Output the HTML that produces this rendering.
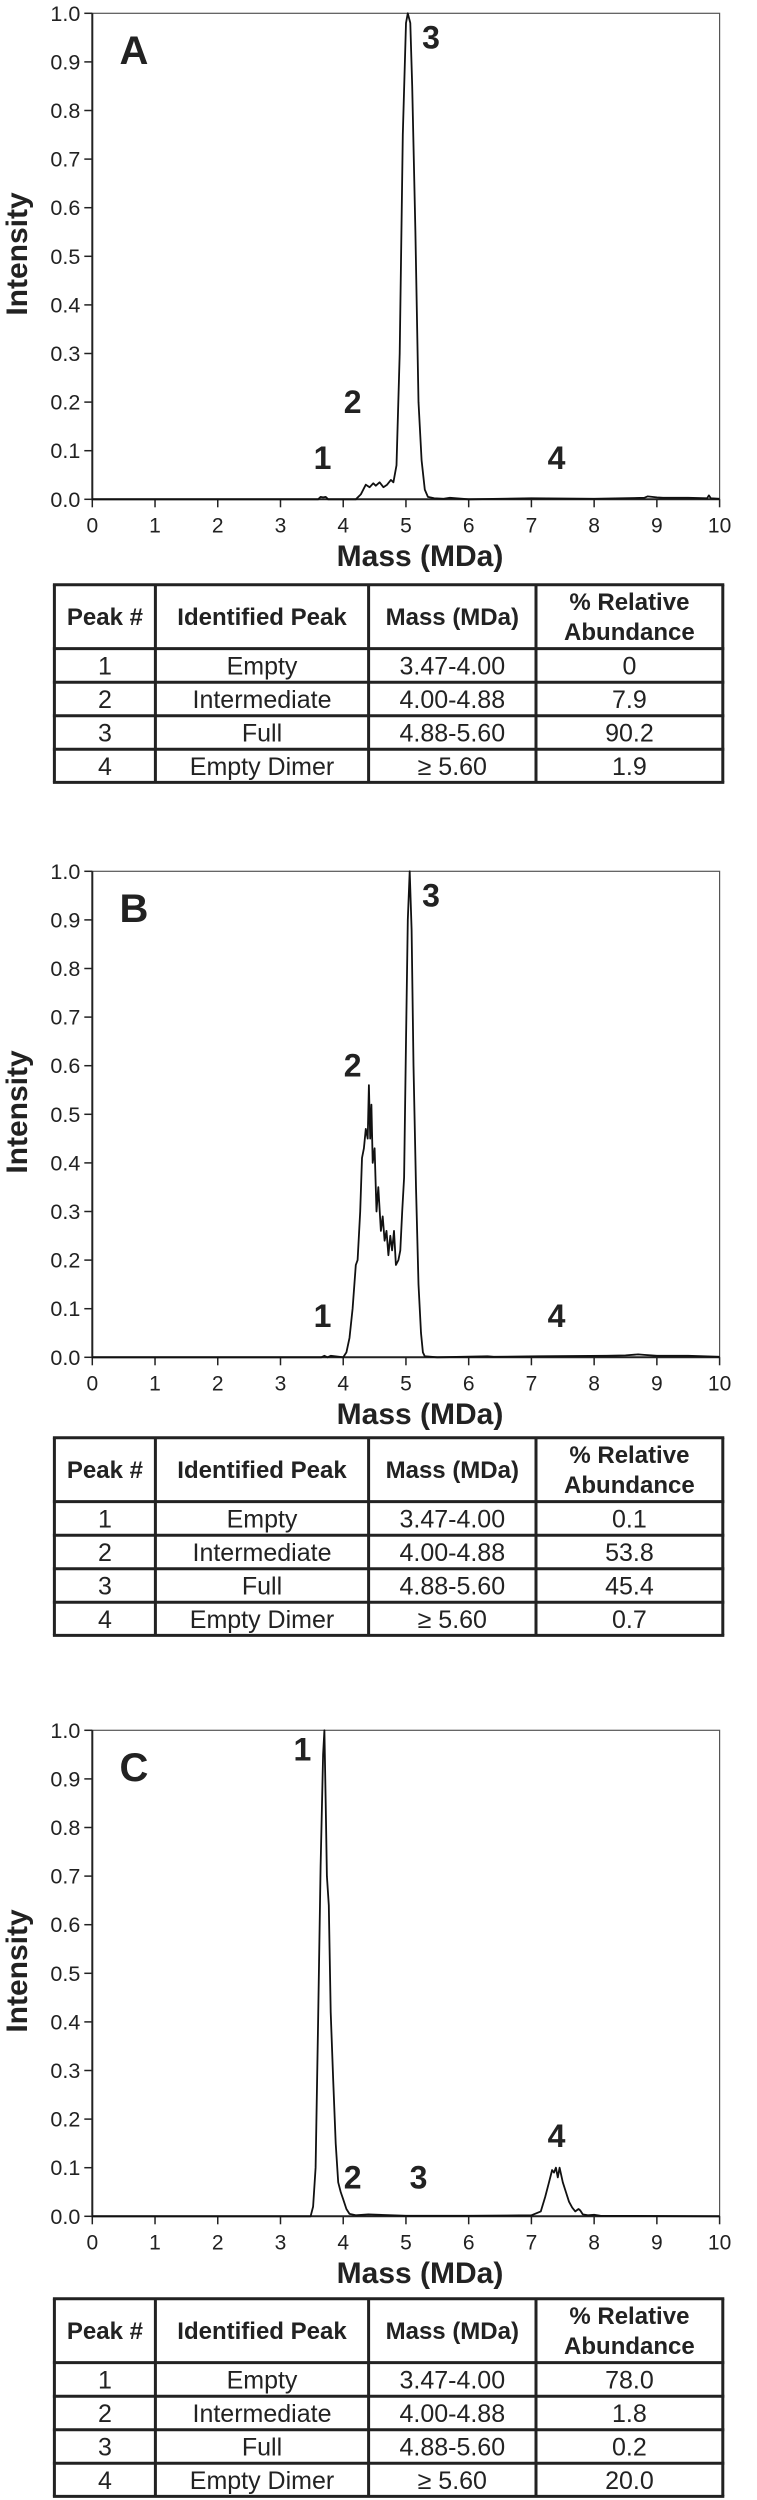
<!DOCTYPE html>
<html><head><meta charset="utf-8">
<style>
html,body{margin:0;padding:0;background:#fff;}
svg{display:block;font-family:"Liberation Sans",Arial,sans-serif;}
</style></head>
<body>
<svg id="fig" width="757" height="2500" viewBox="0 0 757 2500" xmlns="http://www.w3.org/2000/svg"></svg>
<script>
// ---- data ----
const xTicks = [0,1,2,3,4,5,6,7,8,9,10];
const yTicks = [0.0,0.1,0.2,0.3,0.4,0.5,0.6,0.7,0.8,0.9,1.0];
const massA = [0,3.6,3.64,3.68,3.72,3.76,4.2,4.28,4.32,4.36,4.42,4.48,4.52,4.58,4.64,4.7,4.76,4.8,4.85,4.9,4.95,5.0,5.03,5.07,5.1,5.15,5.2,5.25,5.3,5.35,5.45,5.6,5.7,6.0,7.0,8.0,8.8,8.85,9.0,9.1,9.5,9.8,9.83,9.86,10];
const intA = [0,0,0.005,0.004,0.005,0,0,0.01,0.02,0.03,0.025,0.033,0.028,0.035,0.025,0.03,0.04,0.035,0.07,0.3,0.75,0.98,1.0,0.98,0.85,0.55,0.2,0.08,0.02,0.005,0.002,0.001,0.003,0,0.002,0.001,0.003,0.006,0.004,0.003,0.003,0.002,0.008,0.002,0.001];
const massB = [0,3.65,3.7,3.75,3.8,4.0,4.05,4.1,4.15,4.2,4.23,4.27,4.3,4.33,4.36,4.39,4.41,4.43,4.45,4.47,4.5,4.53,4.56,4.6,4.63,4.66,4.69,4.72,4.75,4.78,4.81,4.84,4.88,4.91,4.94,4.97,5.0,5.03,5.06,5.09,5.12,5.16,5.2,5.24,5.27,5.3,5.5,6.3,6.4,7.1,8.2,8.5,8.7,8.8,9.0,9.5,10];
const intB = [0,0,0.003,0,0.003,0,0.01,0.04,0.1,0.19,0.2,0.3,0.41,0.43,0.47,0.45,0.56,0.45,0.52,0.4,0.43,0.3,0.35,0.26,0.29,0.24,0.26,0.21,0.25,0.22,0.26,0.19,0.2,0.22,0.3,0.37,0.65,0.9,1.0,0.88,0.6,0.35,0.15,0.05,0.01,0.002,0,0.002,0.001,0.002,0.003,0.004,0.006,0.005,0.003,0.003,0.001];
const massC = [0,3.48,3.52,3.56,3.6,3.64,3.68,3.7,3.72,3.74,3.77,3.8,3.84,3.88,3.92,3.96,4.0,4.05,4.1,4.2,4.4,5.0,6.0,7.0,7.15,7.22,7.28,7.33,7.36,7.39,7.42,7.45,7.5,7.55,7.6,7.65,7.7,7.75,7.78,7.82,7.9,8.0,8.1,10];
const intC = [0,0,0.02,0.1,0.4,0.72,0.95,1.0,0.85,0.7,0.64,0.42,0.28,0.15,0.07,0.05,0.035,0.015,0.005,0.002,0.004,0.001,0.001,0.002,0.01,0.04,0.07,0.095,0.09,0.1,0.08,0.1,0.07,0.05,0.03,0.018,0.01,0.015,0.012,0.004,0.002,0.003,0.001,0];
const peakLabelsA = [["1",3.67,0.085],["2",4.15,0.2],["3",5.4,0.95],["4",7.4,0.085]];
const peakLabelsB = [["1",3.67,0.085],["2",4.15,0.6],["3",5.4,0.95],["4",7.4,0.085]];
const peakLabelsC = [["1",3.35,0.96],["2",4.15,0.08],["3",5.2,0.08],["4",7.4,0.165]];
const tableHeader = ["Peak #","Identified Peak","Mass (MDa)","% Relative|Abundance"];
const peakNums = ["1","2","3","4"];
const peakNames = ["Empty","Intermediate","Full","Empty Dimer"];
const peakRanges = ["3.47-4.00","4.00-4.88","4.88-5.60","\u2265 5.60"];
const abundA = ["0","7.9","90.2","1.9"];
const abundB = ["0.1","53.8","45.4","0.7"];
const abundC = ["78.0","1.8","0.2","20.0"];

const NS="http://www.w3.org/2000/svg";
const svg=document.getElementById('fig');
function mk(tag,attrs,parent,text){const e=document.createElementNS(NS,tag);for(const k in attrs)e.setAttribute(k,attrs[k]);if(text!==undefined)e.textContent=text;parent.appendChild(e);return e;}

const X0=92.3,X1=719.6,Y0=499.3,Y1=13.3;
const xs=v=>X0+(v-0)/10*(X1-X0);
const ys=v=>Y0-(v-0)/1*(Y0-Y1);

function panel(letter,plotOff,tabOff,mass,inten,labels,abund){
  const g=mk('g',{transform:`translate(0,${plotOff})`},svg);
  
  
  const frame=mk('rect',{x:X0,y:Y1,width:X1-X0,height:Y0-Y1,fill:'none',stroke:'#555','stroke-width':1.2},g);
  
  
  const axes=mk('path',{d:`M${X0},${Y1}V${Y0}H${X1}`,fill:'none',stroke:'#222','stroke-width':2},g);
  
  
  yTicks.forEach(t=>{
    mk('line',{x1:X0-8,x2:X0,y1:ys(t),y2:ys(t),stroke:'#222','stroke-width':1.5},g);
    const tl=mk('text',{x:X0-12,y:ys(t)+7.5,'font-size':21.5,'text-anchor':'end',fill:'#222'},g,t.toFixed(1));
    
    
  });
  xTicks.forEach(t=>{
    mk('line',{x1:xs(t),x2:xs(t),y1:Y0,y2:Y0+8,stroke:'#222','stroke-width':1.5},g);
    const tl=mk('text',{x:xs(t),y:Y0+33,'font-size':21,'text-anchor':'middle',fill:'#222'},g,String(t));
    
    
  });
  const xt=mk('text',{x:420,y:566,'font-size':30,'font-weight':'bold','text-anchor':'middle',fill:'#222'},g,'Mass (MDa)');
  
  
  const yt=mk('text',{x:0,y:0,'font-size':30,'font-weight':'bold','text-anchor':'middle',fill:'#222',transform:`translate(27,254) rotate(-90)`},g,'Intensity');
  
  
  const lt=mk('text',{x:134,y:64,'font-size':40,'font-weight':'bold','text-anchor':'middle',fill:'#222'},g,letter);
  
  
  let d='';
  mass.forEach((m,i)=>{d+=(i?'L':'M')+xs(m).toFixed(1)+','+ys(inten[i]).toFixed(1);});
  const ln=mk('path',{d:d,fill:'none',stroke:'#111','stroke-width':1.8,'stroke-linejoin':'round'},g);
  
  
  labels.forEach(l=>{
    const pl=mk('text',{x:xs(l[1]),y:ys(l[2])+11,'font-size':32,'font-weight':'bold','text-anchor':'middle',fill:'#222'},g,l[0]);
    
    
  });
  // table
  const t=mk('g',{transform:`translate(0,${tabOff})`},svg);
  
  
  const cols=[54.4,155.4,368.6,536,722.8];
  const rows=[584.7,648.6,682.2,715.8,749.3,782.4];
  rows.forEach(r=>mk('line',{x1:cols[0]-1.5,x2:cols[4]+1.5,y1:r,y2:r,stroke:'#222','stroke-width':3},t));
  cols.forEach(c=>mk('line',{x1:c,x2:c,y1:rows[0],y2:rows[5],stroke:'#222','stroke-width':3},t));
  tableHeader.forEach((h,i)=>{
    const cx=(cols[i]+cols[i+1])/2;
    const parts=h.split('|');
    parts.forEach((p,j)=>{
      const y=parts.length===1?625:610+j*30;
      const ht=mk('text',{x:cx,y:y,'font-size':24,'font-weight':'bold','text-anchor':'middle',fill:'#222'},t,p);
      
      
    });
  });
  for(let r=0;r<4;r++){
    const vals=[peakNums[r],peakNames[r],peakRanges[r],abund[r]];
    vals.forEach((v,i)=>{
      const cx=(cols[i]+cols[i+1])/2;
      const ct=mk('text',{x:cx,y:(rows[r+1]+rows[r+2])/2+9,'font-size':25,'text-anchor':'middle',fill:'#222'},t,v);
      
      
    });
  }
}
panel('A',0,0,massA,intA,peakLabelsA,abundA);
panel('B',858,853,massB,intB,peakLabelsB,abundB);
panel('C',1717,1714,massC,intC,peakLabelsC,abundC);
</script>
</body></html>
